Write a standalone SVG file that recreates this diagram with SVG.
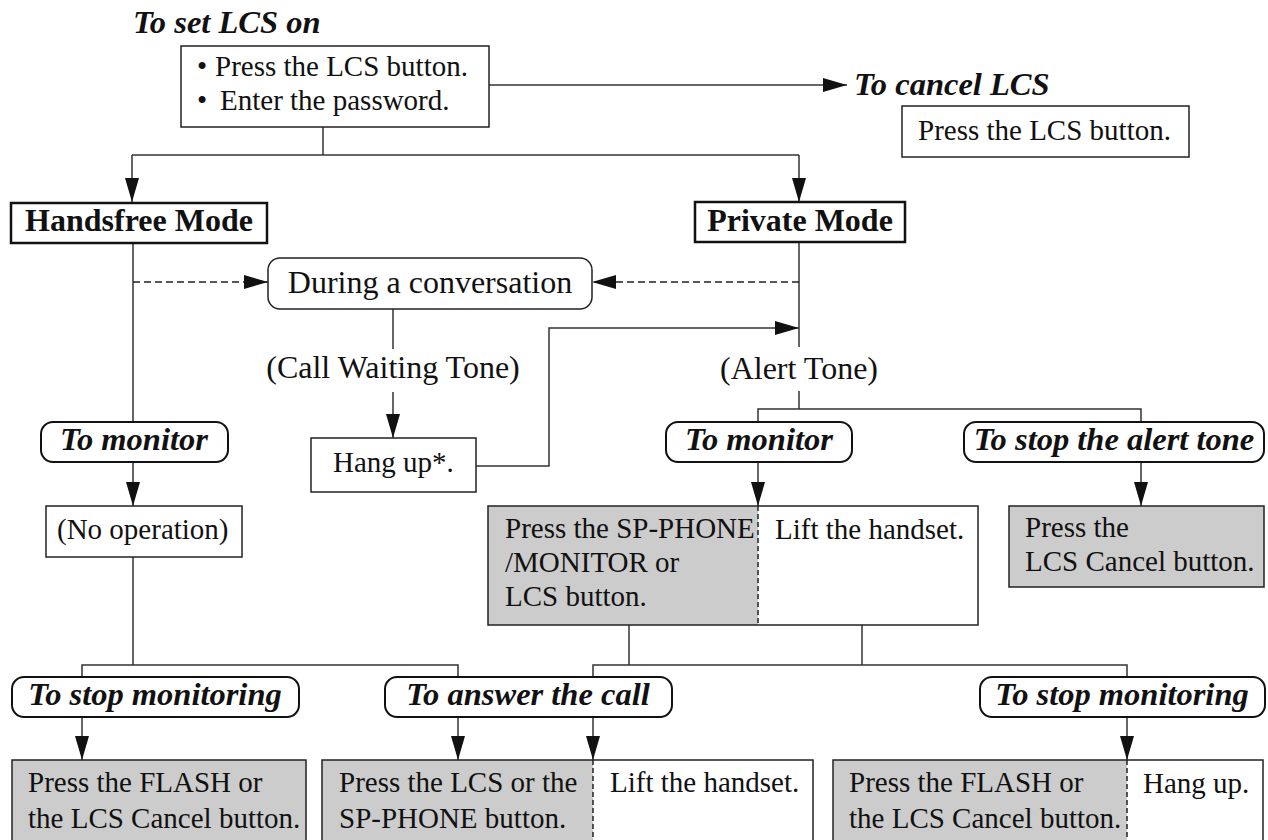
<svg xmlns="http://www.w3.org/2000/svg" width="1268" height="840" viewBox="0 0 1268 840">
<style>
.t{font-family:"Liberation Serif","Times New Roman",serif;font-size:29px;fill:#111}
.tl{font-size:32px}
.bi{font-family:"Liberation Serif","Times New Roman",serif;font-size:32.5px;font-weight:bold;font-style:italic;fill:#111}
.b{font-family:"Liberation Serif","Times New Roman",serif;font-size:32px;font-weight:bold;fill:#111}
.c{text-anchor:middle}
.box{fill:#fff;stroke:#222;stroke-width:1.5}
.gray{fill:#cccccc;stroke:none}
.mode{fill:#fff;stroke:#111;stroke-width:2.5}
.lab{fill:#fff;stroke:#111;stroke-width:2}
.ln{fill:none;stroke:#333;stroke-width:1.5}
.dash{fill:none;stroke:#222;stroke-width:1.5;stroke-dasharray:7 4}
.arr{marker-end:url(#ah)}
</style>
<defs>
<marker id="ah" markerUnits="userSpaceOnUse" markerWidth="24" markerHeight="14" refX="24" refY="7" orient="auto">
<path d="M0,0 L24,7 L0,14 z" fill="#111"/>
</marker>
</defs>

<text class="bi" x="133" y="33">To set LCS on</text>
<text class="bi" x="854" y="95">To cancel LCS</text>

<g id="connectors">
<line class="ln arr" x1="489" y1="85" x2="847" y2="85"/>
<polyline class="ln" points="323,127 323,155"/>
<polyline class="ln" points="132,155 799,155"/>
<line class="ln arr" x1="132" y1="155" x2="132" y2="202"/>
<line class="ln arr" x1="799" y1="155" x2="799" y2="202"/>
<line class="ln" x1="133" y1="243" x2="133" y2="422"/>
<line class="dash arr" x1="133" y1="282" x2="268" y2="282"/>
<line class="ln" x1="799" y1="242" x2="799" y2="347"/>
<line class="ln" x1="799" y1="391" x2="799" y2="409"/>
<line class="dash arr" x1="799" y1="282" x2="592" y2="282"/>
<line class="ln" x1="393" y1="309" x2="393" y2="349"/>
<line class="ln arr" x1="393" y1="392" x2="393" y2="438"/>
<polyline class="ln arr" points="476,466 549,466 549,328 799,328"/>
<polyline class="ln" points="758,422 758,409 1141,409 1141,422"/>
<line class="ln arr" x1="758" y1="462" x2="758" y2="506"/>
<line class="ln arr" x1="1141" y1="462" x2="1141" y2="506"/>
<line class="ln arr" x1="133" y1="462" x2="133" y2="506"/>
<line class="ln" x1="133" y1="557" x2="133" y2="665"/>
<polyline class="ln" points="82,677 82,665 458,665 458,677"/>
<line class="ln" x1="629" y1="625" x2="629" y2="665"/>
<line class="ln" x1="862" y1="625" x2="862" y2="665"/>
<polyline class="ln" points="593,677 593,665 1127,665 1127,677"/>
<line class="ln arr" x1="82" y1="717" x2="82" y2="760"/>
<line class="ln arr" x1="458" y1="717" x2="458" y2="760"/>
<line class="ln arr" x1="593" y1="717" x2="593" y2="760"/>
<line class="ln arr" x1="1127" y1="717" x2="1127" y2="760"/>
</g>

<g id="set-lcs">
<rect class="box" x="181" y="46" width="308" height="81"/>
<text class="t" x="197" y="76">•</text><text class="t" x="215" y="76">Press the LCS button.</text>
<text class="t" x="197" y="110">•</text><text class="t" x="220" y="110">Enter the password.</text>
</g>

<g id="cancel-lcs">
<rect class="box" x="902" y="106" width="287" height="51"/>
<text class="t" x="918" y="140">Press the LCS button.</text>
</g>

<g id="handsfree-mode">
<rect class="mode" x="11" y="203" width="256" height="40"/>
<text class="b c" x="139" y="231">Handsfree Mode</text>
</g>

<g id="private-mode">
<rect class="mode" x="695" y="202" width="210" height="40"/>
<text class="b c" x="800" y="231">Private Mode</text>
</g>

<g id="during-conversation">
<rect class="box" x="268" y="258" width="324" height="51" rx="12"/>
<text class="t tl c" x="430" y="293">During a conversation</text>
</g>

<g id="call-waiting-tone">
<text class="t tl c" x="393" y="378">(Call Waiting Tone)</text>
</g>

<g id="alert-tone">
<text class="t tl c" x="799" y="379">(Alert Tone)</text>
</g>

<g id="hang-up-star">
<rect class="box" x="311" y="438" width="165" height="54"/>
<text class="t" x="333" y="472">Hang up*.</text>
</g>

<g id="to-monitor-left">
<rect class="lab" x="41" y="422" width="187" height="40" rx="12"/>
<text class="bi c" x="134" y="450">To monitor</text>
</g>

<g id="to-monitor-right">
<rect class="lab" x="666" y="422" width="186" height="40" rx="12"/>
<text class="bi c" x="759" y="450">To monitor</text>
</g>

<g id="to-stop-alert">
<rect class="lab" x="964" y="422" width="300" height="40" rx="12"/>
<text class="bi c" x="1114" y="450">To stop the alert tone</text>
</g>

<g id="no-operation">
<rect class="box" x="46" y="506" width="196" height="51"/>
<text class="t" x="57" y="539">(No operation)</text>
</g>

<g id="monitor-action">
<rect class="gray" x="488" y="506" width="270" height="119"/>
<rect class="box" x="488" y="506" width="490" height="119" style="fill:none"/>
<line class="dash" x1="758" y1="506" x2="758" y2="625" style="stroke-dasharray:5 3"/>
<text class="t" x="505" y="538">Press the SP-PHONE</text>
<text class="t" x="505" y="572">/MONITOR or</text>
<text class="t" x="505" y="606">LCS button.</text>
<text class="t" x="775" y="539">Lift the handset.</text>
</g>

<g id="stop-alert-action">
<rect class="box" x="1009" y="506" width="255" height="81" style="fill:#cccccc"/>
<text class="t" x="1025" y="537">Press the</text>
<text class="t" x="1025" y="571">LCS Cancel button.</text>
</g>

<g id="to-stop-monitoring-left">
<rect class="lab" x="12" y="677" width="287" height="40" rx="12"/>
<text class="bi c" x="155" y="705">To stop monitoring</text>
</g>

<g id="to-answer-call">
<rect class="lab" x="385" y="677" width="287" height="40" rx="12"/>
<text class="bi c" x="528" y="705">To answer the call</text>
</g>

<g id="to-stop-monitoring-right">
<rect class="lab" x="980" y="677" width="285" height="40" rx="12"/>
<text class="bi c" x="1122" y="705">To stop monitoring</text>
</g>

<g id="stop-monitoring-left-action">
<rect class="box" x="12" y="760" width="294" height="100" style="fill:#cccccc"/>
<text class="t" x="28" y="792">Press the FLASH or</text>
<text class="t" x="28" y="828">the LCS Cancel button.</text>
</g>

<g id="answer-action">
<rect class="gray" x="322" y="760" width="271" height="100"/>
<rect class="box" x="322" y="760" width="491" height="100" style="fill:none"/>
<line class="dash" x1="593" y1="760" x2="593" y2="860" style="stroke-dasharray:5 3"/>
<text class="t" x="339" y="792">Press the LCS or the</text>
<text class="t" x="339" y="828">SP-PHONE button.</text>
<text class="t" x="610" y="792">Lift the handset.</text>
</g>

<g id="stop-monitoring-right-action">
<rect class="gray" x="833" y="760" width="294" height="100"/>
<rect class="box" x="833" y="760" width="430" height="100" style="fill:none"/>
<line class="dash" x1="1127" y1="760" x2="1127" y2="860" style="stroke-dasharray:5 3"/>
<text class="t" x="849" y="792">Press the FLASH or</text>
<text class="t" x="849" y="828">the LCS Cancel button.</text>
<text class="t" x="1143" y="793">Hang up.</text>
</g>
</svg>
